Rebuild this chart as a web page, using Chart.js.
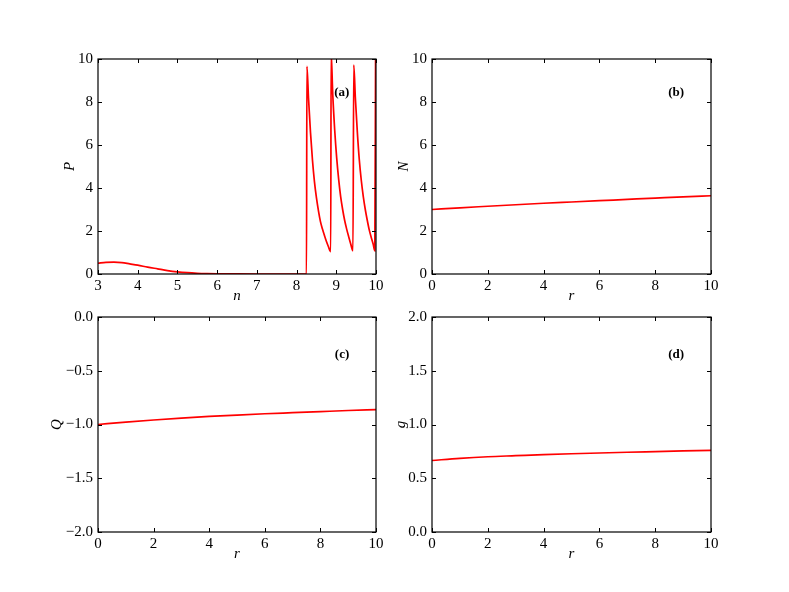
<!DOCTYPE html>
<html>
<head>
<meta charset="utf-8">
<script src="https://cdn.jsdelivr.net/npm/chart.js@4/dist/chart.umd.min.js"></script>
<style>
  body { margin: 0; background: #fff; }
  #fig { position: relative; width: 789px; height: 592px; background: #fff; }
  #fig canvas { position: absolute; }
</style>
</head>
<body>
<div id="fig">
  <canvas id="panelA" width="350" height="260" style="left:40px;top:45px"></canvas>
  <canvas id="panelB" width="350" height="260" style="left:374px;top:45px"></canvas>
  <canvas id="panelC" width="350" height="265" style="left:40px;top:303px"></canvas>
  <canvas id="panelD" width="350" height="265" style="left:374px;top:303px"></canvas>
</div>
<script>
// (a) P against n
const nValues = [3.0, 3.2, 3.4, 3.6, 3.8, 4.0, 4.25, 4.5, 4.75, 5.0, 5.25, 5.5, 5.75, 6.0, 6.5, 7.0, 7.5, 8.0, 8.25,
  8.26, 8.30, 8.35, 8.40, 8.45, 8.50, 8.55, 8.60, 8.65, 8.70, 8.75, 8.80, 8.86,
  8.87, 8.91, 8.96, 9.01, 9.06, 9.11, 9.16, 9.21, 9.26, 9.31, 9.36, 9.42,
  9.44, 9.48, 9.53, 9.58, 9.63, 9.68, 9.73, 9.78, 9.83, 9.88, 9.93, 9.97, 9.99];
const pValues = [0.50, 0.54, 0.55, 0.53, 0.47, 0.41, 0.32, 0.24, 0.16, 0.10, 0.06, 0.035, 0.02, 0.01, 0.003, 0, 0, 0, 0,
  9.66, 8.2, 6.6, 5.3, 4.3, 3.55, 2.95, 2.45, 2.1, 1.8, 1.52, 1.28, 1.04,
  10.3, 8.4, 6.7, 5.4, 4.4, 3.6, 3.0, 2.5, 2.1, 1.75, 1.42, 1.08,
  9.72, 8.2, 6.6, 5.3, 4.35, 3.6, 3.0, 2.5, 2.05, 1.7, 1.38, 1.08, 10.5];

// (b), (c), (d) against r
const rValues = [0, 1, 2, 3, 4, 5, 6, 7, 8, 9, 10];
const nOfR = [3.0, 3.08, 3.15, 3.22, 3.29, 3.35, 3.41, 3.47, 3.53, 3.59, 3.64];
const qValues = [-1.0, -0.978, -0.958, -0.94, -0.925, -0.912, -0.9, -0.89, -0.88, -0.87, -0.862];
const gValues = [0.665, 0.685, 0.70, 0.71, 0.72, 0.728, 0.735, 0.742, 0.748, 0.754, 0.76];

// tick labels
const nTicks = [3, 4, 5, 6, 7, 8, 9, 10];
const rTicks = [0, 2, 4, 6, 8, 10];
const zeroToTen = [0, 2, 4, 6, 8, 10];
const qTicks = [-2, -1.5, -1, -0.5, 0];
const gTicks = [0, 0.5, 1, 1.5, 2];

const SERIF = "'Liberation Serif', 'DejaVu Serif', serif";

function fmtInt(v) { return String(v); }
function fmtOne(v) { return (v < 0 ? "\u2212" : "") + Math.abs(v).toFixed(1); }

// frame + inward ticks on all four sides, matplotlib style
const frameTicks = {
  id: "frameTicks",
  afterDatasetsDraw(chart) {
    const { ctx, chartArea: a, scales: { x, y } } = chart;
    const len = 4;
    ctx.save();
    ctx.strokeStyle = "#000";
    ctx.lineWidth = 1;
    ctx.beginPath();
    x.ticks.forEach((t) => {
      const px = Math.round(x.getPixelForValue(t.value)) + 0.5;
      ctx.moveTo(px, a.bottom); ctx.lineTo(px, a.bottom - len);
      ctx.moveTo(px, a.top); ctx.lineTo(px, a.top + len);
    });
    y.ticks.forEach((t) => {
      const py = Math.round(y.getPixelForValue(t.value)) + 0.5;
      ctx.moveTo(a.left, py); ctx.lineTo(a.left + len, py);
      ctx.moveTo(a.right, py); ctx.lineTo(a.right - len, py);
    });
    ctx.stroke();
    ctx.lineWidth = 1.2;
    ctx.strokeRect(a.left, a.top, a.right - a.left, a.bottom - a.top);
    ctx.restore();
  },
};

// "(a)".."(d)" tag placed in data coordinates
const panelTag = {
  id: "panelTag",
  afterDraw(chart, args, opts) {
    const { ctx, scales: { x, y } } = chart;
    ctx.save();
    ctx.font = "bold 13px " + SERIF;
    ctx.fillStyle = "#000";
    ctx.textAlign = "center";
    ctx.textBaseline = "middle";
    ctx.fillText(opts.text, x.getPixelForValue(opts.x), y.getPixelForValue(opts.y));
    ctx.restore();
  },
};

function axis(ticksArr, min, max, title, titlePad, fmt, horizontal, size) {
  return {
    type: "linear",
    min,
    max,
    grid: { display: false, drawTicks: false },
    border: { display: false },
    ticks: {
      color: "#000",
      font: { family: SERIF, size: 15 },
      padding: horizontal ? 3 : 5,
      autoSkip: false,
      maxRotation: 0,
      callback: fmt,
    },
    title: {
      display: true,
      text: title,
      color: "#000",
      font: { family: SERIF, size: 15, style: "italic" },
      padding: titlePad,
    },
    afterBuildTicks(scale) {
      scale.ticks = ticksArr.map((v) => ({ value: v }));
    },
    afterFit(scale) {
      if (horizontal) scale.height = size;
      else scale.width = size;
    },
  };
}

function makePanel(id, xs, ys, xAxis, yAxis, pad, tag) {
  const pts = xs.map((v, i) => ({ x: v, y: ys[i] }));
  new Chart(document.getElementById(id), {
    type: "line",
    data: {
      datasets: [
        {
          data: pts,
          borderColor: "#ff0000",
          borderWidth: 1.7,
          pointRadius: 0,
          cubicInterpolationMode: "monotone",
          fill: false,
        },
      ],
    },
    options: {
      responsive: false,
      animation: false,
      events: [],
      layout: { padding: pad },
      plugins: { legend: { display: false }, tooltip: { enabled: false }, panelTag: tag },
      scales: { x: xAxis, y: yAxis },
    },
    plugins: [frameTicks, panelTag],
  });
}

makePanel("panelA", nValues, pValues,
  axis(nTicks, 3, 10, "n", { top: 0, bottom: 0 }, fmtInt, true, 31),
  axis(zeroToTen, 0, 10, "P", { top: 21, bottom: 0 }, fmtInt, false, 58),
  { top: 14, right: 14, left: 0, bottom: 0 },
  { text: "(a)", x: 9.14, y: 8.42 });

makePanel("panelB", rValues, nOfR,
  axis(rTicks, 0, 10, "r", { top: 0, bottom: 0 }, fmtInt, true, 31),
  axis(zeroToTen, 0, 10, "N", { top: 21, bottom: 0 }, fmtInt, false, 58),
  { top: 14, right: 13, left: 0, bottom: 0 },
  { text: "(b)", x: 8.75, y: 8.43 });

makePanel("panelC", rValues, qValues,
  axis(rTicks, 0, 10, "r", { top: 0, bottom: 5 }, fmtInt, true, 36),
  axis(qTicks, -2, 0, "Q", { top: 8, bottom: 0 }, fmtOne, false, 58),
  { top: 14, right: 14, left: 0, bottom: 0 },
  { text: "(c)", x: 8.78, y: -0.353 });

makePanel("panelD", rValues, gValues,
  axis(rTicks, 0, 10, "r", { top: 0, bottom: 5 }, fmtInt, true, 36),
  axis(gTicks, 0, 2, "g", { top: 18, bottom: 0 }, fmtOne, false, 58),
  { top: 14, right: 13, left: 0, bottom: 0 },
  { text: "(d)", x: 8.75, y: 1.647 });
</script>
</body>
</html>
